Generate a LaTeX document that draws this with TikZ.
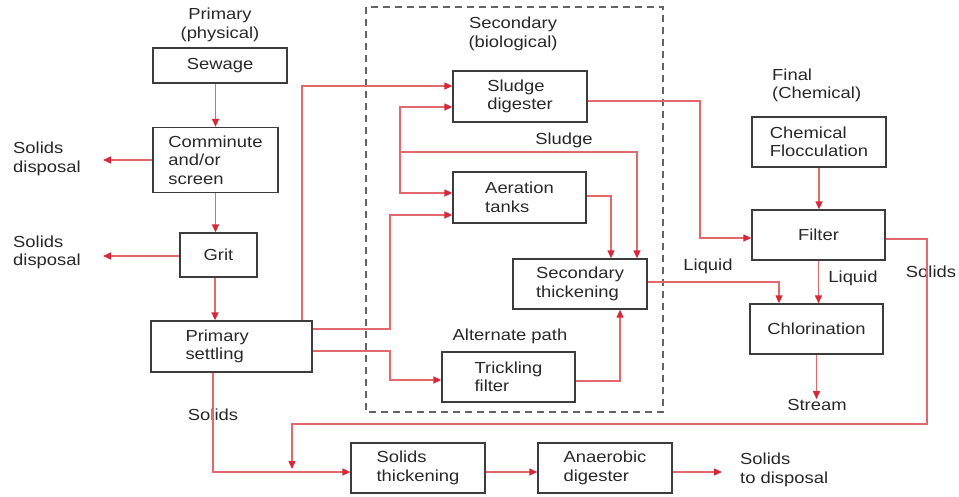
\documentclass[tikz,border=0pt]{standalone}
\usepackage{fontspec}
\setmainfont{Liberation Sans}[FakeStretch=1.15]
\usetikzlibrary{arrows.meta}
\definecolor{linered}{RGB}{226,104,108}
\definecolor{tipred}{RGB}{214,40,56}
\definecolor{boxgray}{RGB}{60,60,60}
\definecolor{dashgray}{RGB}{100,100,100}
\definecolor{txtgray}{RGB}{40,40,40}
\begin{document}
\begin{tikzpicture}[x=1pt,y=-1pt,
  every node/.style={font=\fontsize{16}{18.5}\selectfont, text=txtgray},
  pbox/.style={draw=boxgray, line width=1.3pt, minimum width=134pt, minimum height=50pt, align=left, inner sep=2pt},
  lbl/.style={align=left, inner sep=0pt},
  flow/.style={draw=linered, line width=1.3pt, -{Triangle[length=8pt,width=7pt,color=tipred]}},
  plain/.style={draw=linered, line width=1.3pt}]
\useasboundingbox (0,0) rectangle (959,496);

% secondary dashed region
\draw[dashgray, line width=1.1pt, dash pattern=on 7pt off 5pt] (366,7) rectangle (663,412);

% boxes
\node[pbox, minimum width=134pt, minimum height=35pt] (sewage) at (220,65.5) {Sewage};
\node[pbox, minimum width=125pt, minimum height=65pt] (comm) at (215.5,160) {Comminute\\and/or\\screen};
\node[pbox, minimum width=77pt, minimum height=44pt] (grit) at (218.5,255) {Grit};
\node[pbox, minimum width=161pt, minimum height=51pt, text width=92pt] (prim) at (231.5,346.5) {Primary\\settling};
\node[pbox, minimum height=51pt] (dig) at (520,96.5) {Sludge\\digester};
\node[pbox, minimum width=133pt, minimum height=51pt] (aer) at (519.5,197.5) {Aeration\\tanks};
\node[pbox] (thick) at (580,284) {Secondary\\thickening};
\node[pbox, minimum width=133pt] (trick) at (508.5,377) {Trickling\\filter};
\node[pbox] (floc) at (819,142) {Chemical\\Flocculation};
\node[pbox, minimum width=133pt, align=center] (filter) at (818.5,235) {Filter};
\node[pbox, minimum width=133pt, align=center] (chlor) at (816.5,329) {Chlorination};
\node[pbox] (sthick) at (418,468) {Solids\\thickening};
\node[pbox] (anaer) at (605,468) {Anaerobic\\digester};

% labels
\node[lbl, align=center] (tprim) at (220,25) {Primary\\(physical)};
\node[lbl, anchor=west] (sd1) at (13,159) {Solids\\disposal};
\node[lbl, anchor=west] (sd2) at (13,252.5) {Solids\\disposal};
\node[lbl, align=center] (tsec) at (513,34) {Secondary\\(biological)};
\node[lbl] (tsludge) at (564,140) {Sludge};
\node[lbl] (talt) at (510,336) {Alternate path};
\node[lbl, anchor=west] (tfinal) at (772,85.5) {Final\\(Chemical)};
\node[lbl] (tliq1) at (708,266) {Liquid};
\node[lbl] (tliq2) at (853,278) {Liquid};
\node[lbl] (tsol1) at (931,272) {Solids};
\node[lbl] (stream) at (817,405) {Stream};
\node[lbl] (tsol2) at (213,415) {Solids};
\node[lbl, anchor=west] (sdisp) at (740,470) {Solids\\to disposal};

% helper coordinates
\coordinate (tip1) at (103,160);
\coordinate (tip2) at (103,256);
\coordinate (c215) at (215,0);
\coordinate (k1) at (302,86);
\coordinate (k2) at (390,329);
\coordinate (k3) at (0,215);
\coordinate (k4) at (390,351);
\coordinate (k4b) at (0,380);
\coordinate (k5) at (400,152);
\coordinate (k5a) at (0,107);
\coordinate (k5b) at (0,193);
\coordinate (k6) at (637,152);
\coordinate (k7) at (611,196);
\coordinate (k8) at (700,101);
\coordinate (k9) at (0,238);
\coordinate (k10) at (779,282);
\coordinate (k11) at (620,381);
\coordinate (k12) at (927,239);
\coordinate (k13) at (292,424);
\coordinate (k14) at (292,469);
\coordinate (k15) at (213,472);
\coordinate (k16) at (0,472);
\coordinate (tip3) at (722,472);

% connectors
\draw[flow] (comm.north |- sewage.south) -- (comm.north);
\draw[flow] (comm.west |- tip1) -- (tip1);
\draw[flow] (comm.south) -- (comm.south |- grit.north);
\draw[flow] (grit.west |- tip2) -- (tip2);
\draw[flow] (grit.south -| c215) -- (prim.north -| c215);
\draw[flow] (prim.north -| k1) -- (k1) -- (dig.west |- k1);
\draw[flow] (prim.east |- k2) -- (k2) |- (aer.west |- k3);
\draw[flow] (prim.east |- k4) -- (k4) |- (trick.west |- k4b);
\draw[flow] (k5) -- (k6) -- (k6 |- thick.north);
\draw[flow] (k5) |- (dig.west |- k5a);
\draw[flow] (k5) |- (aer.west |- k5b);
\draw[flow] (aer.east |- k7) -- (k7) -- (k7 |- thick.north);
\draw[flow] (dig.east |- k8) -- (k8) |- (filter.west |- k9);
\draw[flow] (floc.south) -- (floc.south |- filter.north);
\draw[flow] (filter.south) -- (filter.south |- chlor.north);
\draw[flow] (thick.east |- k10) -- (k10) -- (k10 |- chlor.north);
\draw[flow] (trick.east |- k11) -- (k11) -- (k11 |- thick.south);
\draw[flow] (chlor.south) -- (chlor.south |- stream.north);
\draw[flow] (filter.east |- k12) -- (k12) |- (k13) -- (k14);
\draw[flow] (prim.south -| k15) -- (k15) -- (sthick.west |- k15);
\draw[flow] (sthick.east |- k16) -- (anaer.west |- k16);
\draw[flow] (anaer.east |- tip3) -- (tip3);
\end{tikzpicture}
\end{document}
